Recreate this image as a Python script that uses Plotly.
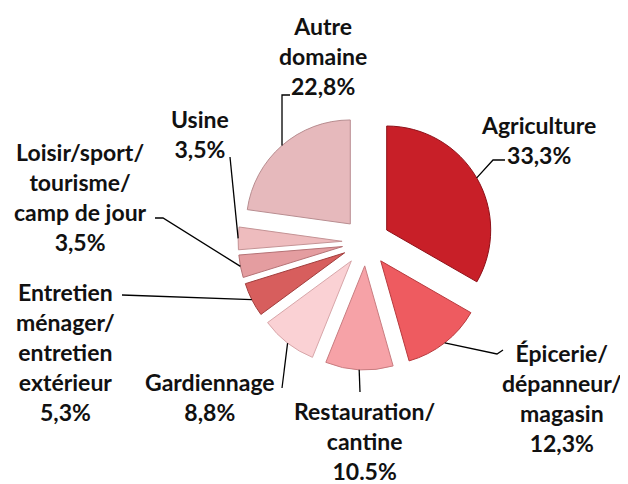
import math
import plotly.graph_objects as go

# ---- data ----
categories = ["Agriculture", "Épicerie/dépanneur/magasin", "Restauration/cantine",
              "Gardiennage", "Entretien ménager/entretien extérieur",
              "Loisir/sport/tourisme/camp de jour", "Usine", "Autre domaine"]
values = [33.3, 12.3, 10.5, 8.8, 5.3, 3.5, 3.5, 22.8]
label_texts = ["Agriculture<br>33,3%",
               "Épicerie/<br>dépanneur/<br>magasin<br>12,3%",
               "Restauration/<br>cantine<br>10.5%",
               "Gardiennage<br>8,8%",
               "Entretien<br>ménager/<br>entretien<br>extérieur<br>5,3%",
               "Loisir/sport/<br>tourisme/<br>camp de jour<br>3,5%",
               "Usine<br>3,5%",
               "Autre<br>domaine<br>22,8%"]
colors = ["#C81F28", "#EE5B60", "#F6A2A7", "#FAD1D4",
          "#D75E5D", "#E49DA0", "#EEBCBE", "#E6B9BC"]
edge_colors = ["#8E1018", "#B83A3E", "#C97C80", "#D8A6A9",
               "#A13E3D", "#B57275", "#C49395", "#B88D90"]

# ---- layout geometry (page pixels) ----
PAGE_W, PAGE_H = 628, 484
OFF = 8                 # default body margin of the html page
W, H = PAGE_W - OFF, PAGE_H - OFF
CX, CY = 366, 242      # pie centre
R = 104                # pie radius
PULL = 0.23            # pull as fraction of radius
box = 2 * R * (1 + PULL)

# label centres and leader-line elbows (page pixels)
label_pos = [(538, 140), (562, 398), (365, 441), (210, 397),
             (65, 352), (80, 197), (200, 134), (323, 56)]
elbows = [[(493, 160), (505, 160)],
          [(497, 354), (503, 350)],
          [(360, 392)],
          [(282, 388)],
          [(122, 295)],
          [(163, 218), (155, 218)],
          [(230, 157)],
          [(282, 95), (290, 95)]]


def px(x, y):
    return (x - OFF) / W, 1 - (y - OFF) / H


fig = go.Figure(go.Pie(
    labels=categories, values=values, sort=False, direction="clockwise",
    rotation=0, pull=[PULL] * len(values), textinfo="none", hoverinfo="label+percent",
    marker=dict(colors=colors, line=dict(color=edge_colors, width=1)),
    domain=dict(x=[(CX - OFF - box / 2) / W, (CX - OFF + box / 2) / W],
                y=[1 - (CY - OFF + box / 2) / H, 1 - (CY - OFF - box / 2) / H]),
    showlegend=False,
))

total = sum(values)
cum = 0.0
shapes = []
annotations = []
for i, v in enumerate(values):
    mid = (cum + v / 2) / total * 2 * math.pi
    cum += v
    dx, dy = math.sin(mid), -math.cos(mid)
    ax = CX + dx * R * PULL + dx * R
    ay = CY + dy * R * PULL + dy * R
    pts = [(ax, ay)] + elbows[i]
    path = ""
    for j, (x, y) in enumerate(pts):
        X, Y = px(x, y)
        path += ("M" if j == 0 else " L") + f" {X:.5f},{Y:.5f}"
    shapes.append(dict(type="path", path=path, xref="paper", yref="paper",
                       line=dict(color="#000000", width=1.3)))
    lx, ly = px(*label_pos[i])
    annotations.append(dict(text=label_texts[i], x=lx, y=ly, xref="paper", yref="paper",
                            xanchor="center", yanchor="middle", showarrow=False,
                            align="center",
                            font=dict(family="Lato", size=23, color="#111111", weight="bold")))

fig.update_layout(width=W, height=H, margin=dict(l=0, r=0, t=0, b=0),
                  paper_bgcolor="white", plot_bgcolor="white",
                  shapes=shapes, annotations=annotations)
fig.write_html("out.html")
